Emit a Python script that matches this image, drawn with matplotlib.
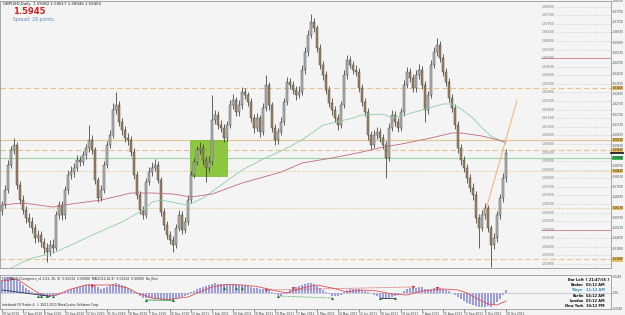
import numpy as np
import matplotlib
matplotlib.use("Agg")
import matplotlib.pyplot as plt
from matplotlib.patches import Rectangle
from matplotlib.transforms import blended_transform_factory

# GBPUSD daily, one candle per ~2 sessions
first_open = 1.5610
closes = [
    1.5644, 1.5731, 1.5877, 1.5965, 1.5994, 1.5760, 1.5673, 1.5615, 1.5568, 1.5545,
    1.5510, 1.5452, 1.5469, 1.5428, 1.5393, 1.5370, 1.5411, 1.5393, 1.5586, 1.5644,
    1.5586, 1.5731, 1.5819, 1.5836, 1.5860, 1.5906, 1.5895, 1.5935, 1.5976, 1.6023,
    1.5965, 1.5790, 1.5685, 1.5731, 1.5877, 1.5994, 1.6052, 1.6198, 1.6227, 1.6128,
    1.6081, 1.6035, 1.6023, 1.5953, 1.5819, 1.5702, 1.5615, 1.5586, 1.5778, 1.5836,
    1.5860, 1.5877, 1.5790, 1.5603, 1.5527, 1.5469, 1.5440, 1.5411, 1.5510, 1.5586,
    1.5498, 1.5545, 1.5673, 1.5819, 1.5895, 1.5965, 1.5976, 1.5906, 1.5860, 1.5895,
    1.6139, 1.6169, 1.6110, 1.6093, 1.6035, 1.6110, 1.6227, 1.6256, 1.6186, 1.6227,
    1.6303, 1.6285, 1.6244, 1.6151, 1.6093, 1.6151, 1.6069, 1.6209, 1.6343, 1.6227,
    1.6093, 1.6023, 1.6069, 1.6128, 1.6244, 1.6361, 1.6343, 1.6314, 1.6285, 1.6303,
    1.6431, 1.6536, 1.6635, 1.6711, 1.6676, 1.6559, 1.6460, 1.6402, 1.6314, 1.6239,
    1.6198, 1.6151, 1.6110, 1.6227, 1.6402, 1.6489, 1.6460, 1.6431, 1.6419, 1.6326,
    1.6244, 1.6186, 1.6052, 1.5994, 1.6052, 1.6069, 1.6035, 1.5994, 1.5918, 1.6093,
    1.6169, 1.6128, 1.6093, 1.6186, 1.6343, 1.6419, 1.6384, 1.6326, 1.6402, 1.6431,
    1.6343, 1.6198, 1.6285, 1.6460, 1.6536, 1.6577, 1.6501, 1.6419, 1.6361, 1.6268,
    1.6209, 1.6110, 1.5976, 1.5906, 1.5860, 1.5801, 1.5743, 1.5702, 1.5568, 1.5510,
    1.5586, 1.5626, 1.5510, 1.5411, 1.5452, 1.5586, 1.5685, 1.5801, 1.5945,
]
highs = [
    1.5670, 1.5760, 1.5905, 1.5990, 1.6034, 1.6010, 1.5785, 1.5700, 1.5640, 1.5600,
    1.5575, 1.5535, 1.5500, 1.5495, 1.5450, 1.5420, 1.5440, 1.5445, 1.5610, 1.5670,
    1.5665, 1.5755, 1.5850, 1.5870, 1.5890, 1.5935, 1.5930, 1.5960, 1.6000, 1.6110,
    1.6050, 1.5985, 1.5810, 1.5760, 1.5900, 1.6020, 1.6080, 1.6240, 1.6303, 1.6250,
    1.6150, 1.6105, 1.6065, 1.6045, 1.5975, 1.5840, 1.5725, 1.5640, 1.5800, 1.5865,
    1.5895, 1.5915, 1.5900, 1.5810, 1.5625, 1.5550, 1.5495, 1.5465, 1.5535, 1.5615,
    1.5610, 1.5575, 1.5700, 1.5845, 1.5920, 1.5990, 1.6010, 1.6000, 1.5930, 1.5930,
    1.6285, 1.6200, 1.6190, 1.6140, 1.6115, 1.6135, 1.6255, 1.6290, 1.6275, 1.6255,
    1.6330, 1.6325, 1.6305, 1.6265, 1.6175, 1.6180, 1.6170, 1.6240, 1.6402, 1.6360,
    1.6245, 1.6115, 1.6095, 1.6155, 1.6270, 1.6390, 1.6385, 1.6365, 1.6340, 1.6335,
    1.6460, 1.6565, 1.6665, 1.6757, 1.6735, 1.6695, 1.6580, 1.6485, 1.6425, 1.6340,
    1.6265, 1.6220, 1.6175, 1.6250, 1.6430, 1.6520, 1.6510, 1.6485, 1.6460, 1.6440,
    1.6350, 1.6265, 1.6210, 1.6075, 1.6080, 1.6100, 1.6095, 1.6060, 1.6015, 1.6120,
    1.6195, 1.6190, 1.6150, 1.6210, 1.6370, 1.6450, 1.6440, 1.6405, 1.6430, 1.6465,
    1.6455, 1.6365, 1.6310, 1.6490, 1.6565, 1.6617, 1.6600, 1.6525, 1.6440, 1.6385,
    1.6290, 1.6230, 1.6135, 1.6000, 1.5930, 1.5885, 1.5825, 1.5770, 1.5725, 1.5590,
    1.5615, 1.5655, 1.5645, 1.5530, 1.5480, 1.5610, 1.5710, 1.5830, 1.5970,
]
lows = [
    1.5585, 1.5625, 1.5715, 1.5860, 1.5940, 1.5735, 1.5650, 1.5590, 1.5540, 1.5515,
    1.5480, 1.5425, 1.5430, 1.5400, 1.5360, 1.5312, 1.5345, 1.5365, 1.5380, 1.5560,
    1.5555, 1.5565, 1.5710, 1.5795, 1.5810, 1.5840, 1.5870, 1.5875, 1.5915, 1.5955,
    1.5940, 1.5765, 1.5660, 1.5665, 1.5715, 1.5860, 1.5975, 1.6035, 1.6175, 1.6105,
    1.6055, 1.6010, 1.5995, 1.5930, 1.5795, 1.5680, 1.5590, 1.5560, 1.5570, 1.5760,
    1.5815, 1.5840, 1.5770, 1.5580, 1.5500, 1.5445, 1.5415, 1.5370, 1.5395, 1.5490,
    1.5475, 1.5480, 1.5525, 1.5655, 1.5800, 1.5875, 1.5940, 1.5880, 1.5778, 1.5835,
    1.5880, 1.6115, 1.6085, 1.6070, 1.6010, 1.6015, 1.6090, 1.6205, 1.6160, 1.6165,
    1.6205, 1.6260, 1.6220, 1.6125, 1.6065, 1.6075, 1.6040, 1.6050, 1.6190, 1.6200,
    1.6070, 1.5995, 1.6000, 1.6050, 1.6110, 1.6225, 1.6320, 1.6290, 1.6255, 1.6265,
    1.6285, 1.6410, 1.6515, 1.6615, 1.6650, 1.6535, 1.6435, 1.6375, 1.6290, 1.6215,
    1.6170, 1.6125, 1.6081, 1.6095, 1.6210, 1.6380, 1.6440, 1.6405, 1.6395, 1.6300,
    1.6220, 1.6160, 1.6025, 1.5970, 1.5975, 1.6030, 1.6010, 1.5970, 1.5801, 1.5900,
    1.6075, 1.6105, 1.6070, 1.6075, 1.6165, 1.6325, 1.6360, 1.6300, 1.6305, 1.6380,
    1.6320, 1.6128, 1.6175, 1.6265, 1.6440, 1.6515, 1.6480, 1.6395, 1.6335, 1.6245,
    1.6185, 1.6085, 1.5950, 1.5880, 1.5835, 1.5775, 1.5720, 1.5675, 1.5540, 1.5393,
    1.5490, 1.5560, 1.5485, 1.5282, 1.5385, 1.5430, 1.5565, 1.5660, 1.5780,
]

# moving averages, sampled along the curve (candle index, price)
ma_fast_idx = [3, 7, 10, 17, 23, 28, 33, 40, 47, 50, 53, 58, 62, 67, 73, 80, 87, 93,
               100, 107, 110, 117, 120, 127, 130, 133, 140, 147, 150, 153, 157, 160,
               163, 167, 168]
ma_fast_val = [1.5277, 1.5312, 1.5335, 1.5364, 1.5411, 1.5452, 1.5492, 1.5545, 1.5615,
               1.5661, 1.5673, 1.5656, 1.5644, 1.5685, 1.5760, 1.5848, 1.5912, 1.5959,
               1.6023, 1.6110, 1.6122, 1.6151, 1.6169, 1.6174, 1.6151, 1.6163, 1.6198,
               1.6233, 1.6233, 1.6204, 1.6151, 1.6093, 1.6046, 1.6011, 1.5999]
ma_slow_idx = [0, 7, 17, 23, 33, 43, 50, 57, 63, 70, 80, 93, 100, 110, 120, 127, 133,
               143, 150, 153, 160, 167, 168]
ma_slow_val = [1.5644, 1.5656, 1.5632, 1.5650, 1.5673, 1.5714, 1.5714, 1.5708, 1.5691,
               1.5708, 1.5772, 1.5836, 1.5889, 1.5918, 1.5953, 1.5982, 1.5999, 1.6035,
               1.6064, 1.6064, 1.6046, 1.6017, 1.6011]

trend_idx = [161, 171.7]
trend_val = [1.5597, 1.6256]

box_idx = [62.5, 75.0]
box_val = [1.5813, 1.6023]

# horizontal levels drawn across the chart
level_price = [1.6326, 1.6023, 1.5962, 1.5918, 1.5842, 1.5627, 1.5328]
level_style = ["dashed", "solid", "dashed", "solid", "dotted", "dotted", "dashed"]
level_color = ["#e2c48e", "#e2c48e", "#e2c48e", "#9ed6a6", "#e2c48e", "#e2c48e", "#e2c48e"]

ref_levels = [1.680, 1.675, 1.670, 1.665, 1.660, 1.655, 1.650, 1.645, 1.640, 1.635,
              1.630, 1.625, 1.620, 1.615, 1.610, 1.605, 1.600, 1.595, 1.590, 1.585,
              1.580, 1.575, 1.570, 1.565, 1.560, 1.555, 1.550, 1.545, 1.540, 1.535, 1.530]
red_levels = [1.650, 1.550]
price_ticks = [1.6833, 1.6773, 1.6713, 1.6653, 1.6593, 1.6533, 1.6473, 1.6413, 1.6353,
               1.6293, 1.6233, 1.6173, 1.6113, 1.6053, 1.5993, 1.5933, 1.5873, 1.5813,
               1.5753, 1.5693, 1.5633, 1.5573, 1.5513, 1.5453, 1.5393, 1.5333]

date_labels = ["29 Jul 2010", "17 Aug 2010", "8 Sep 2010", "23 Sep 2010", "12 Oct 2010",
               "31 Oct 2010", "18 Nov 2010", "7 Dec 2010", "26 Dec 2010", "13 Jan 2011",
               "1 Feb 2011", "20 Feb 2011", "10 Mar 2011", "29 Mar 2011", "17 Apr 2011",
               "5 May 2011", "24 May 2011", "12 Jun 2011", "30 Jun 2011", "19 Jul 2011",
               "7 Aug 2011", "25 Aug 2011", "13 Sep 2011", "2 Oct 2011", "20 Oct 2011"]
label_step = 7

# MACD divergence window (values in 1e-3)
macd_hist = [19.5, 21, 23.3, 24, 22.5, 19.5, 15.8, 12, 7.5, 3.8, 0.8, -1.5, -3, -3.8, -4.5,
             -5.3, -5.3, -4.5, -3.8, -2.3, -0.8, 1.5, 3.8, 6, 7.5, 9, 10.5, 11.3, 12, 12.8,
             12.8, 11.3, 8.3, 6, 6.8, 9, 11.3, 13.5, 14.3, 13.5, 12, 9.8, 7.5, 4.5, 1.5,
             -1.5, -4.5, -6.8, -7.5, -7.5, -7.5, -8.3, -9, -9.8, -10.5, -10.5, -10.5, -9.8,
             -8.3, -6.8, -6, -4.5, -2.3, 0.8, 3, 6, 7.5, 8.3, 9.8, 12, 13.5, 14.3, 13.5,
             12.8, 12.8, 12.8, 13.5, 13.5, 12.8, 12, 12, 11.3, 10.5, 9, 7.5, 6.8, 5.3, 6,
             6, 4.5, 1.5, -1.5, -3, -3.8, -1.5, 1.5, 4.5, 7.5, 9, 10.5, 12, 13.5, 15, 15,
             13.5, 10.5, 7.5, 4.5, 1.5, -1.5, -3.8, -4.5, -4.5, -2.3, 1.5, 4.5, 6, 6, 6,
             5.3, 4.5, 3, 1.5, 0, -2.3, -4.5, -6.8, -7.5, -8.3, -7.5, -6, -4.5, -2.3, 0, 3,
             6, 7.5, 7.5, 7.5, 8.3, 8.3, 6, 5.3, 6, 7.5, 8.3, 7.5, 6, 4.5, 2.3, 0, -3, -6,
             -9, -12, -14.3, -16.5, -18, -19.5, -21, -21, -20.3, -19.5, -20.3, -18, -13.5,
             -9, -3, 4.5]
signal_idx = [0, 5, 12, 15, 18, 23, 28, 32, 37, 42, 45, 50, 55, 62, 65, 70, 75, 80, 85,
              90, 95, 100, 105, 110, 115, 120, 125, 130, 135, 140, 147, 152, 155, 158,
              162, 165, 168]
signal_val = [18, 21, 0, -4.5, -3, 6, 12, 12, 12, 7.5, 0, -7.5, -9.8, -6, 0, 9, 12.8, 12,
              9.8, 4.5, 0, 7.5, 12, 7.5, 1.5, 4.5, 3, -1.5, -3, 3, 6, 4.5, 0, -7.5, -16.5,
              -18, -12]
bear_idx = [30, 88, 97, 137, 145]
bear_val = [10.5, 4.5, 7.5, 9, 7.5]
bull_idx = [12, 13, 15, 17, 48, 57, 74, 78, 80, 92, 110, 126, 131]
bull_val = [-4.5, -4.5, -5, -5, -10.5, -11, 7.5, 7.5, 7.5, -4.5, -7.5, -7.5, -7.5]
div_lines = [  # (x0, v0, x1, v1, colour, style)
    (0, 4.5, 16, -5, "#203060", "solid"),
    (48, -10.5, 57, -11, "#2a9a3a", "solid"),
    (88, 4.5, 137, 9, "#d04040", "dotted"),
    (92, -4.5, 110, -7.5, "#2a9a3a", "dotted"),
    (126, -7.5, 131, -7.5, "#203060", "solid"),
]

BG = "#f4f4f4"
W, H = 625, 315
SMALL = 2.2
AXIS = 1.9


def box(l, t, r, b):
    return [l / W, 1 - b / H, (r - l) / W, (b - t) / H]


plt.rcParams["font.family"] = ["DejaVu Sans"]
fig = plt.figure(figsize=(6.25, 3.15), dpi=100, facecolor=BG)
ax = fig.add_axes(box(0, 1, 611, 268), facecolor=BG)
axi = fig.add_axes(box(0, 275, 611, 309), facecolor=BG, sharex=ax)

# candles
closes = np.array(closes)
opens = np.r_[first_open, closes[:-1]]
x = np.arange(len(closes))
up = closes >= opens
ax.vlines(x, lows, highs, color="#3a3a3a", lw=0.55, zorder=4)
ax.bar(x, closes - opens, bottom=opens, width=0.62,
       color=np.where(up, "#b8b8b8", "#a2865f"), edgecolor="#3a3a3a",
       linewidth=0.3, zorder=5)

ax.add_patch(Rectangle((box_idx[0], box_val[0]), box_idx[1] - box_idx[0],
                       box_val[1] - box_val[0], facecolor="#8dc63f",
                       edgecolor="#7bb62e", lw=0.5, zorder=2))

for p, ls, c in zip(level_price, level_style, level_color):
    dash = {"dashed": (0, (5, 2.5)), "dotted": (0, (1, 1.5)), "solid": "-"}[ls]
    ax.axhline(p, color=c, ls=dash, lw=0.8, zorder=1)

ax.plot(ma_fast_idx, ma_fast_val, color="#8ccfa8", lw=0.6, zorder=6)
ax.plot(ma_slow_idx, ma_slow_val, color="#c26a7a", lw=0.6, zorder=6)
ax.plot(trend_idx, trend_val, color="#f3b070", lw=0.7, zorder=6)

for p in ref_levels:
    ax.text(180, p, f"{p:.5f}", fontsize=SMALL, va="center", ha="left", color="#707070")
    if p in red_levels:
        ax.hlines(p, 179.5, 205, color="#d88a90", lw=0.7)
    else:
        ax.hlines(p, 184.5, 205, color="#c4c4c4", lw=0.5, ls=(0, (1, 1.5)))

# tick labels hidden behind a level marker are not shown (as in the terminal)
shown = [t for t in price_ticks
         if min(abs(t - p) for p in level_price + [closes[-1]]) > 0.0022]
ax.set_xlim(-0.7, 203.0)
ax.set_ylim(1.5277, 1.6833)
ax.yaxis.tick_right()
ax.set_yticks(shown)
ax.set_yticklabels([f"{p:.5f}" for p in shown])
ax.tick_params(axis="y", labelsize=AXIS, length=1.0, pad=0.3, colors="#404040",
               width=0.4)
ax.tick_params(axis="x", labelbottom=False, length=0)
for s in ax.spines.values():
    s.set_color("#9a9a9a")
    s.set_linewidth(0.6)

# right-axis markers for the level lines and the current bid
tr = blended_transform_factory(ax.transAxes, ax.transData)
for p, c in zip(level_price, level_color):
    fc = "#e8c060" if c == "#e2c48e" else "#3cc060"
    ax.text(1.002, p, f"{p:.5f}", transform=tr, fontsize=AXIS, va="center",
            ha="left", color="#202020", clip_on=False,
            bbox=dict(boxstyle="square,pad=0.1", fc=fc, ec="none"))
ax.plot([1.0, 1.02], [closes[-1], closes[-1]], transform=tr, color="#101010",
        lw=1.2, clip_on=False, zorder=7)

# header text
fig.text(3 / W, 1 - 4 / H, "GBPUSD,Daily  1.59382 1.59617 1.58946 1.59450",
         fontsize=2.8, color="#202020", va="center")
fig.text(13 / W, 1 - 11 / H, "1.5945", fontsize=6, fontweight="bold",
         color="#d02020", va="center")
fig.text(13 / W, 1 - 19 / H, "Spread: 28 points.", fontsize=3.3, color="#5b8bc0",
         va="center")

# indicator window
hist = np.array(macd_hist)
axi.bar(np.arange(len(hist)), hist, width=0.55, color="#9c9ce0", edgecolor="none")
axi.axhline(0, color="#b0b0c8", lw=0.4)
axi.plot(signal_idx, signal_val, color="#e05050", lw=0.6)
for x0, v0, x1, v1, c, ls in div_lines:
    axi.plot([x0, x1], [v0, v1], color=c, lw=0.6,
             ls=(0, (1, 1)) if ls == "dotted" else "-")
axi.plot(bear_idx, bear_val, "v", color="#e02020", ms=2.2, mew=0)
axi.plot(bull_idx, bull_val, "^", color="#207a30", ms=2.2, mew=0)
axi.set_ylim(-24, 27)
axi.yaxis.tick_right()
axi.set_yticks([24.9, 0, -23.5])
axi.set_yticklabels(["0.0249", "0.00", "-0.0248"])
axi.tick_params(axis="y", labelsize=AXIS, length=1.0, pad=0.3, colors="#404040",
                width=0.4)
axi.set_xticks(np.arange(len(date_labels)) * label_step)
axi.set_xticklabels(date_labels)
for lbl in axi.get_xticklabels():
    lbl.set_ha("left")
axi.tick_params(axis="x", labelsize=SMALL, length=2, pad=0.4, colors="#404040",
                width=0.4)
for s in axi.spines.values():
    s.set_color("#9a9a9a")
    s.set_linewidth(0.6)

axi.text(0.003, 0.93, "FX5_MACD_Divergence_v1.1(12, 26, 9)  0.00234  0.00080  "
         "MACD(12,26,9)  0.00234  0.00080  No_Elon", transform=axi.transAxes,
         fontsize=SMALL, va="top", color="#202020")
axi.text(0.003, 0.06, "Interbank FX Trader 4, \u00a9 2001-2011 MetaQuotes Software Corp.",
         transform=axi.transAxes, fontsize=SMALL, va="bottom", color="#202020")
clock = [("Bar Left", "[ 21:47:55 ]"), ("Broker", "02:12 AM"), ("Tokyo", "11:12 AM"),
         ("Berlin", "04:12 AM"), ("London", "03:12 AM"), ("New York", "10:12 PM")]
for k, (name, t) in enumerate(clock):
    yy = 0.92 - k * 0.155
    col = "#3a8ac0" if name == "Tokyo" else "#101010"
    axi.text(0.955, yy, name, transform=axi.transAxes, fontsize=2.5, ha="right",
             va="top", color=col, fontweight="bold")
    axi.text(0.959, yy, t, transform=axi.transAxes, fontsize=2.5, ha="left",
             va="top", color=col, fontweight="bold")

fig.savefig("out.png", dpi=100, facecolor=BG)
